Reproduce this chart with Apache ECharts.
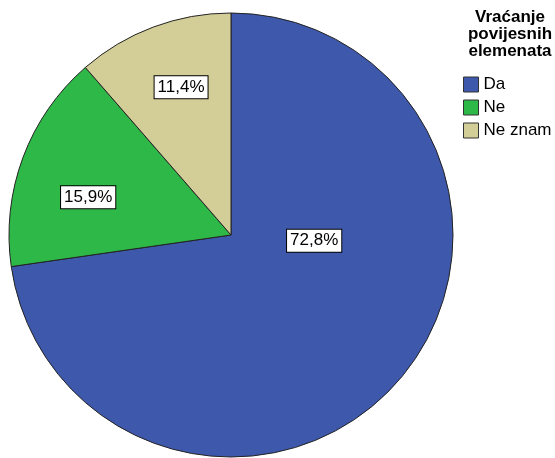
<!DOCTYPE html>
<html>
<head>
<meta charset="utf-8">
<script src="https://cdn.jsdelivr.net/npm/echarts@6/dist/echarts.min.js"></script>
<style>html,body{margin:0;padding:0;background:#fff}#c{width:555px;height:458px}</style>
</head>
<body>
<div id="c"></div>
<script>
var categories = ['Da', 'Ne', 'Ne znam'];
var values = [72.8, 15.9, 11.4];
var labels = ['72,8%', '15,9%', '11,4%'];
var colors = ['#3E58AC', '#2EB848', '#D3CE97'];
var labelShift = [[-3, -69], [-36, 2], [-10, -41]];

var chart = echarts.init(document.getElementById('c'), null, {renderer: 'canvas'});
chart.setOption({
  animation: false,
  title: {
    text: 'Vraćanje\npovijesnih\nelemenata',
    left: 505, top: 4, textAlign: 'center',
    textStyle: {fontFamily: 'Liberation Sans, Arial', fontSize: 17, fontWeight: 'bold', color: '#000', lineHeight: 17}
  },
  legend: {
    orient: 'vertical', left: 458, top: 71,
    itemWidth: 15, itemHeight: 15, itemGap: 6,
    icon: 'rect',
    data: categories,
    textStyle: {fontFamily: 'Liberation Sans, Arial', fontSize: 17, color: '#000', lineHeight: 15},
    itemStyle: {borderColor: '#333', borderWidth: 1}
  },
  series: [{
    type: 'pie',
    center: [231, 235],
    radius: 222,
    startAngle: 90,
    clockwise: true,
    silent: true,
    data: categories.map(function (c, i) {
      return {name: c, value: values[i], itemStyle: {color: colors[i]}};
    }),
    itemStyle: {borderColor: '#222', borderWidth: 1},
    label: {
      show: true, position: 'inside',
      formatter: function (p) { return labels[p.dataIndex]; },
      fontFamily: 'Liberation Sans, Arial', fontSize: 17, color: '#000',
      backgroundColor: '#fff', borderColor: '#000', borderWidth: 1,
      padding: [3, 3, 2, 3]
    },
    labelLine: {show: false},
    labelLayout: function (p) {
      return {dx: labelShift[p.dataIndex][0], dy: labelShift[p.dataIndex][1]};
    }
  }]
});
</script>
</body>
</html>
